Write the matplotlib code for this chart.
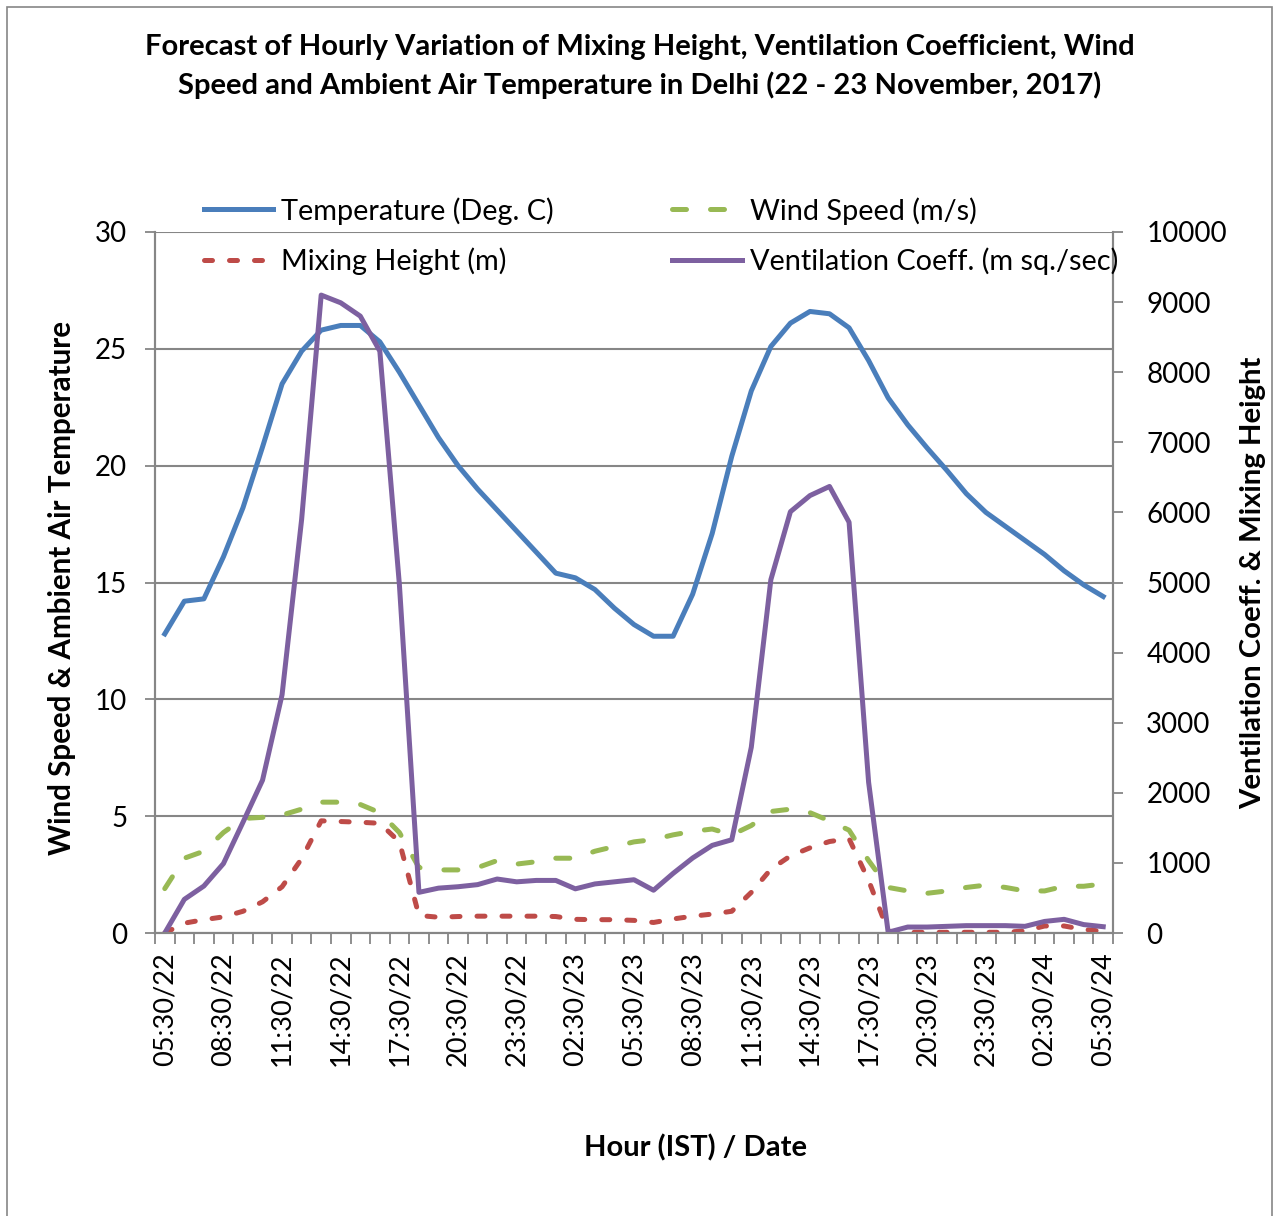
import matplotlib.pyplot as plt
import numpy as np
from matplotlib.patches import Rectangle

# hourly forecast, 05:30/22 .. 05:30/24 (49 hours)
tick_labels = ["05:30/22", "08:30/22", "11:30/22", "14:30/22", "17:30/22", "20:30/22",
               "23:30/22", "02:30/23", "05:30/23", "08:30/23", "11:30/23", "14:30/23",
               "17:30/23", "20:30/23", "23:30/23", "02:30/24", "05:30/24"]

temperature = [12.8, 14.2, 14.3, 16.1, 18.2, 20.8, 23.5, 24.9, 25.8, 26.0, 26.0, 25.3, 24.0,
               22.6, 21.2, 20.0, 19.0, 18.1, 17.2, 16.3, 15.4, 15.2, 14.7, 13.9, 13.2,
               12.7, 12.7, 14.5, 17.1, 20.4, 23.2, 25.1, 26.1, 26.6, 26.5, 25.9, 24.5,
               22.9, 21.75, 20.75, 19.8, 18.8, 18.0, 17.4, 16.8, 16.2, 15.5, 14.9, 14.4]

wind_speed = [1.9, 3.2, 3.5, 4.3, 4.9, 4.95, 5.05, 5.3, 5.6, 5.6, 5.5, 5.15, 4.3,
              2.8, 2.7, 2.7, 2.8, 3.1, 2.95, 3.05, 3.2, 3.2, 3.5, 3.7, 3.9,
              4.0, 4.2, 4.35, 4.45, 4.2, 4.6, 5.2, 5.3, 5.15, 4.8, 4.4, 3.1,
              1.95, 1.8, 1.7, 1.8, 1.95, 2.05, 1.95, 1.8, 1.8, 2.0, 2.0, 2.1]

mixing_height = [0, 140, 190, 230, 310, 445, 660, 1060, 1600, 1590, 1580, 1565, 1300,
                 250, 225, 235, 240, 240, 240, 240, 235, 195, 190, 190, 180,
                 150, 200, 240, 270, 310, 580, 910, 1100, 1215, 1305, 1345, 750,
                 25, 10, 10, 10, 10, 10, 10, 30, 100, 100, 50, 25]

ventilation = [0, 480, 670, 990, 1580, 2180, 3400, 5900, 9100, 8990, 8800, 8300, 4970,
               580, 640, 660, 690, 770, 730, 750, 750, 630, 700, 730, 760,
               610, 850, 1070, 1250, 1330, 2650, 5040, 6010, 6240, 6370, 5860, 2150,
               10, 85, 85, 95, 105, 105, 105, 95, 165, 195, 120, 90]

x = np.arange(len(temperature))

plt.rcParams['font.family'] = ['Lato', 'DejaVu Sans']
grey = '#868686'
W, H = 1279, 1216

fig = plt.figure(figsize=(W / 100, H / 100), dpi=100)
ax = fig.add_axes([155 / W, 1 - 933 / H, (1113 - 155) / W, (933 - 232) / H])
ax2 = ax.twinx()

# lines
lw = 3.6
l1, = ax.plot(x, temperature, color='#4A7EBB', lw=lw, label='Temperature (Deg. C)')
l2, = ax.plot(x, wind_speed, color='#98B954', lw=lw, dashes=(2.8, 4.8),
              dash_capstyle='round', label='Wind Speed (m/s)')
l3, = ax2.plot(x, mixing_height, color='#BE4B48', lw=lw, dashes=(1.6, 3.4),
               dash_capstyle='round', label='Mixing Height (m)')
l4, = ax2.plot(x, ventilation, color='#7D60A0', lw=lw, label='Ventilation Coeff. (m sq./sec)')

# axes
ax.set_xlim(-0.5, len(x) - 0.5)
ax.set_ylim(0, 30)
ax2.set_ylim(0, 10000)
ax.set_yticks(range(0, 31, 5))
ax2.set_yticks(range(0, 10001, 1000))
ax.set_xticks(x[::3])
ax.set_xticklabels(tick_labels, rotation=90)
ax.set_xticks(np.arange(-0.5, len(x), 1), minor=True)

ax.tick_params(axis='x', which='major', length=0, pad=14, labelsize=19.5)
ax.tick_params(axis='x', which='minor', length=8, color=grey, width=1.3)
ax.tick_params(axis='y', length=7, color=grey, width=1.3, labelsize=20, pad=13)
ax2.tick_params(axis='y', length=7, color=grey, width=1.3, labelsize=20, pad=17)

ax.yaxis.grid(True, color=grey, lw=1.5)
ax.set_axisbelow(True)
for a in (ax, ax2):
    a.spines['top'].set_visible(False)
    for s in ('left', 'right', 'bottom'):
        a.spines[s].set_color(grey)
        a.spines[s].set_linewidth(1.5)

# legend (transparent, overlaps top of plot)
fig.legend([l1, l3, l2, l4], [l.get_label() for l in (l1, l3, l2, l4)],
           ncol=2, loc='upper left', bbox_to_anchor=(204 / W, 1 - 197 / H),
           frameon=False, fontsize=20.8, handlelength=2.4, handletextpad=0.28,
           columnspacing=4.1, labelspacing=0.8, borderpad=0, borderaxespad=0)

# titles
fig.text(640 / W, 1 - 47 / H,
         "Forecast of Hourly Variation of Mixing Height, Ventilation Coefficient, Wind",
         ha='center', va='center', fontsize=21, weight='bold')
fig.text(640 / W, 1 - 85 / H,
         "Speed and Ambient Air Temperature in Delhi (22 - 23 November, 2017)",
         ha='center', va='center', fontsize=21, weight='bold')
fig.text(62 / W, 1 - 588 / H, "Wind Speed & Ambient Air Temperature", rotation=90,
         ha='center', va='center', fontsize=21.3, weight='bold')
fig.text(1253 / W, 1 - 583 / H, "Ventilation Coeff. & Mixing Height", rotation=90,
         ha='center', va='center', fontsize=21.1, weight='bold')
fig.text(695 / W, 1 - 1148 / H, "Hour (IST) / Date", ha='center', va='center',
         fontsize=21, weight='bold')

# chart border
fig.patches.append(Rectangle((7 / W, -0.01), (1272 - 7) / W, 1 - 7 / H + 0.01,
                             transform=fig.transFigure, fill=False,
                             edgecolor=grey, lw=1.2))

plt.savefig('out.png', dpi=100)
